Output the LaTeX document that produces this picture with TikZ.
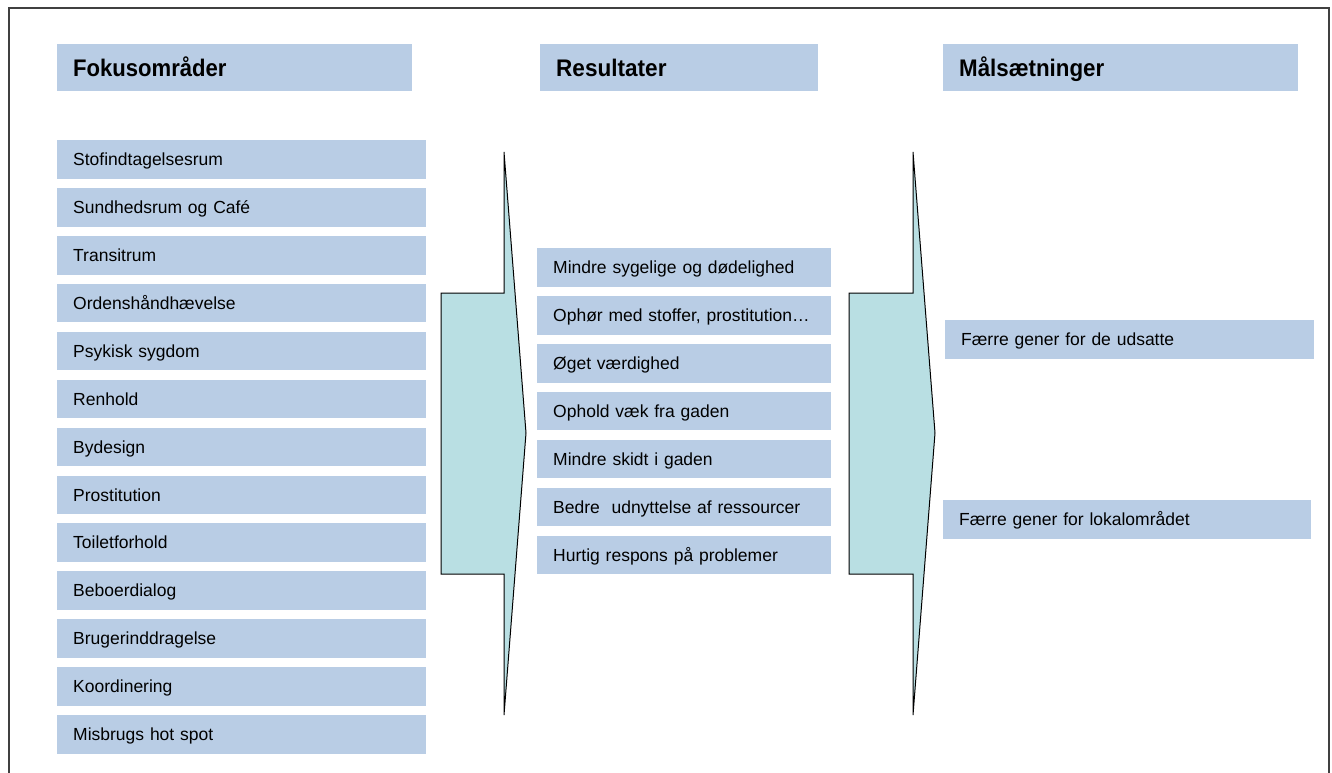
\documentclass[tikz,border=0pt]{standalone}
\usepackage{fontspec}
\setmainfont{Liberation Sans}
\definecolor{boxblue}{RGB}{185,205,229}
\definecolor{arrowcyan}{RGB}{185,223,227}
\definecolor{framegray}{RGB}{64,64,64}
\tikzset{
  hdr/.style={fill=boxblue, draw=none, anchor=north west, inner xsep=16pt, inner ysep=0pt,
    minimum height=47pt, text height=17.2pt, text depth=0pt, align=left,
    font=\fontsize{24}{24}\selectfont\bfseries},
  itm/.style={fill=boxblue, draw=none, anchor=north west, inner xsep=16pt, inner ysep=0pt,
    minimum height=38.5pt, text height=12.5pt, text depth=0pt, align=left,
    font=\fontsize{17.5}{17.5}\selectfont},
  bigarrow/.style={fill=arrowcyan, draw=black, line width=1pt, line join=miter},
  frame/.style={draw=framegray, line width=1.6pt}
}
\begin{document}
\begin{tikzpicture}[x=1pt,y=-1pt]
\useasboundingbox (0,0) rectangle (1332,772);
% frame
\coordinate (fbl) at (9,780);
\coordinate (ftl) at (9,8);
\coordinate (ftr) at (1329,8);
\coordinate (fbr) at (1329,780);
\draw[frame] (fbl) -- (ftl) -- (ftr) -- (fbr);
% headers
\node[hdr, text width=323pt] (h1) at (57,44) {\scalebox{0.92}[1]{Fokusområder}};
\node[hdr, text width=246pt] (h2) at (540,44) {\scalebox{0.94}[1]{Resultater}};
\node[hdr, text width=323pt] (h3) at (943,44) {\scalebox{0.93}[1]{Målsætninger}};
% arrows
\draw[bigarrow] (441,293) -- (504,293) -- (504,152) -- (526,433) -- (504,715) -- (504,574) -- (441,574) -- cycle;
\draw[bigarrow] (849,293) -- (913,293) -- (913,152) -- (935,433) -- (913,715) -- (913,574) -- (849,574) -- cycle;
% left column
\foreach \t [count=\i from 0] in {Stofindtagelsesrum,Sundhedsrum og Café,Transitrum,Ordenshåndhævelse,Psykisk sygdom,Renhold,Bydesign,Prostitution,Toiletforhold,Beboerdialog,Brugerinddragelse,Koordinering,Misbrugs hot spot}{
  \node[itm, text width=337pt] (l\i) at (57,140+47.9*\i) {\t};
}
% middle column
\foreach \t [count=\i from 0] in {Mindre sygelige og dødelighed,{Ophør med stoffer, prostitution…},Øget værdighed,Ophold væk fra gaden,Mindre skidt i gaden,Bedre\ \ udnyttelse af ressourcer,Hurtig respons på problemer}{
  \node[itm, text width=262pt] (m\i) at (537,248+47.9*\i) {\t};
}
% right column
\node[itm, text width=337pt] (r1) at (945,320) {Færre gener for de udsatte};
\node[itm, text width=336pt] (r2) at (943,500) {Færre gener for lokalområdet};
\end{tikzpicture}
\end{document}
